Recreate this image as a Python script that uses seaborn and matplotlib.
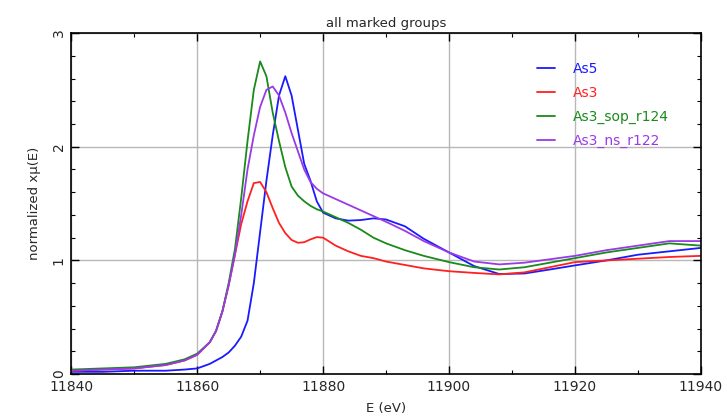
import numpy as np
import pandas as pd
import seaborn as sns
import matplotlib.pyplot as plt
from matplotlib.ticker import MultipleLocator

# energy grid (eV)
energy = [11840, 11845, 11850, 11855, 11858, 11860, 11862, 11863, 11864, 11865,
          11866, 11867, 11868, 11869, 11870, 11871, 11872, 11873, 11874, 11875,
          11876, 11877, 11878, 11879, 11880, 11882, 11884, 11886, 11888, 11890,
          11893, 11896, 11900, 11904, 11908, 11912, 11916, 11920, 11925, 11930,
          11935, 11940]

as5 = [0.02, 0.02, 0.03, 0.03, 0.04, 0.05, 0.09, 0.12, 0.15, 0.19,
       0.25, 0.33, 0.47, 0.80, 1.25, 1.70, 2.10, 2.45, 2.62, 2.45,
       2.15, 1.85, 1.70, 1.52, 1.42, 1.37, 1.35, 1.355, 1.37, 1.36,
       1.30, 1.19, 1.07, 0.95, 0.88, 0.885, 0.92, 0.956, 1.00, 1.05,
       1.08, 1.11]

as3 = [0.03, 0.04, 0.05, 0.08, 0.12, 0.17, 0.28, 0.38, 0.55, 0.78,
       1.05, 1.32, 1.52, 1.68, 1.69, 1.60, 1.46, 1.33, 1.24, 1.18,
       1.155, 1.16, 1.185, 1.205, 1.20, 1.13, 1.08, 1.04, 1.02, 0.99,
       0.96, 0.93, 0.905, 0.89, 0.877, 0.895, 0.94, 0.985, 1.00, 1.015,
       1.03, 1.04]

as3_sop = [0.04, 0.05, 0.06, 0.09, 0.13, 0.18, 0.28, 0.38, 0.55, 0.80,
           1.10, 1.55, 2.05, 2.50, 2.75, 2.62, 2.30, 2.05, 1.82, 1.65,
           1.57, 1.52, 1.48, 1.45, 1.43, 1.38, 1.33, 1.27, 1.20, 1.15,
           1.09, 1.04, 0.985, 0.94, 0.92, 0.94, 0.98, 1.02, 1.07, 1.11,
           1.15, 1.13]

as3_ns = [0.03, 0.04, 0.05, 0.08, 0.12, 0.17, 0.28, 0.38, 0.55, 0.78,
          1.05, 1.40, 1.80, 2.10, 2.35, 2.50, 2.53, 2.45, 2.30, 2.12,
          1.96, 1.80, 1.69, 1.63, 1.59, 1.54, 1.49, 1.44, 1.39, 1.34,
          1.26, 1.17, 1.07, 0.99, 0.965, 0.98, 1.01, 1.04, 1.09, 1.13,
          1.17, 1.17]

groups = ["As5", "As3", "As3_sop_r124", "As3_ns_r122"]
colors = ["#1a1aff", "#ff2020", "#1a8a1a", "#9a3ae6"]

df = pd.concat([
    pd.DataFrame({"E": energy, "mu": vals, "group": name})
    for name, vals in zip(groups, [as5, as3, as3_sop, as3_ns])
])

sns.set_theme(style="white")
plt.rcParams["font.family"] = ["DejaVu Sans"]

fig = plt.figure(figsize=(7.27, 4.18), dpi=100)
ax = fig.add_axes([0.098, 0.105, 0.866, 0.816])

sns.lineplot(data=df, x="E", y="mu", hue="group", hue_order=groups,
             palette=colors, linewidth=1.3, ax=ax, sort=False)

ax.set_xlim(11840, 11940)
ax.set_ylim(0, 3)
ax.xaxis.set_major_locator(MultipleLocator(20))
ax.xaxis.set_minor_locator(MultipleLocator(10))
ax.yaxis.set_major_locator(MultipleLocator(1))
ax.yaxis.set_minor_locator(MultipleLocator(0.2))
ax.grid(True, which="major", color="#b8b8b8", linewidth=1.0)
ax.set_axisbelow(True)

for s in ax.spines.values():
    s.set_color("black")
    s.set_linewidth(1.2)

ax.tick_params(which="both", direction="in", top=True, right=True,
               bottom=True, left=True, color="black")
ax.tick_params(which="major", length=6, width=1.0, labelsize=10, pad=4)
ax.tick_params(which="minor", length=3, width=0.8)
for lab in ax.get_yticklabels():
    lab.set_rotation(90)
    lab.set_va("center")

ax.set_xlabel("E (eV)", fontsize=9.5, labelpad=6)
ax.set_ylabel("normalized xμ(E)", fontsize=9.5, labelpad=8)
ax.set_title("all marked groups", fontsize=9.5, pad=4)

leg = ax.legend(loc="upper left", bbox_to_anchor=(0.72, 0.952), frameon=False,
                handlelength=1.3, handletextpad=1.3, labelspacing=0.72,
                fontsize=10)
for txt, c in zip(leg.get_texts(), colors):
    txt.set_color(c)

fig.savefig("out.png", dpi=100)
